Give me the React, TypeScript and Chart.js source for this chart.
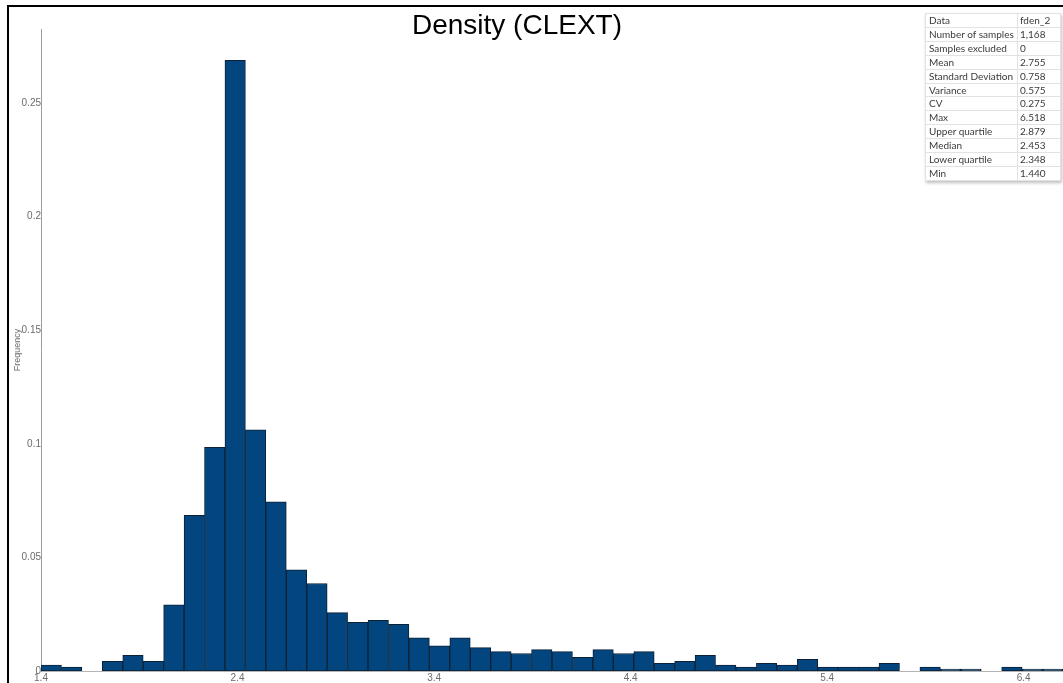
import { useEffect, useRef } from "react";
import { Chart, registerables } from "chart.js";

Chart.register(...registerables);

// Histogram bins: 50 equal-width bins starting at BIN_START
const BIN_START = 1.4;
const BIN_WIDTH = 0.104;
const FREQUENCY = [
  0.00257, 0.00171, 0, 0.00428, 0.00685, 0.00428, 0.02911, 0.06849, 0.09846, 0.26884,
  0.10616, 0.07449, 0.04452, 0.03853, 0.02568, 0.0214, 0.02226, 0.02055, 0.01455, 0.01113,
  0.01455, 0.01027, 0.00856, 0.00771, 0.00942, 0.00856, 0.00599, 0.00942, 0.00771, 0.00856,
  0.00342, 0.00428, 0.00685, 0.00257, 0.00171, 0.00342, 0.00257, 0.00514, 0.00171, 0.00171,
  0.00171, 0.00342, 0, 0.00171, 0.00086, 0.00086, 0, 0.00171, 0.00086, 0.00086,
];

const X_MIN = 1.4;
const X_MAX = 6.6;
const X_TICKS = [1.4, 2.4, 3.4, 4.4, 5.4, 6.4];
const Y_MAX = 0.2826;
const Y_TICKS = [0, 0.05, 0.1, 0.15, 0.2, 0.25];

const TITLE = "Density (CLEXT)";
const Y_TITLE = "Frequency";

const STAT_NAMES = [
  "Data",
  "Number of samples",
  "Samples excluded",
  "Mean",
  "Standard Deviation",
  "Variance",
  "CV",
  "Max",
  "Upper quartile",
  "Median",
  "Lower quartile",
  "Min",
];
const STAT_VALUES = [
  "fden_2",
  "1,168",
  "0",
  "2.755",
  "0.758",
  "0.575",
  "0.275",
  "6.518",
  "2.879",
  "2.453",
  "2.348",
  "1.440",
];

const AXIS_FONT = "'Liberation Sans', Arial, sans-serif";
const TABLE_FONT = "Lato, 'Noto Sans', sans-serif";

export default function App() {
  const canvasRef = useRef<HTMLCanvasElement>(null);

  useEffect(() => {
    const canvas = canvasRef.current;
    if (!canvas) return;

    const points = FREQUENCY.map((y, i) => ({ x: BIN_START + BIN_WIDTH * (i + 0.5), y }));

    const chart = new Chart(canvas, {
      type: "bar",
      data: {
        datasets: [
          {
            data: points,
            backgroundColor: "#03467f",
            borderColor: "#0c2135",
            borderWidth: 1,
            borderSkipped: false,
            barPercentage: 1,
            categoryPercentage: 1,
          },
        ],
      },
      options: {
        animation: false,
        responsive: false,
        devicePixelRatio: 1,
        layout: { padding: { top: 29, left: 0, right: 0, bottom: 0 } },
        plugins: {
          legend: { display: false },
          tooltip: { enabled: false },
          title: { display: false },
        },
        scales: {
          x: {
            type: "linear",
            min: X_MIN,
            max: X_MAX,
            offset: false,
            grid: { display: false, drawTicks: false },
            border: { color: "#b4b4b4", width: 1 },
            ticks: {
              padding: 1,
              color: "#6b6b6b",
              font: { family: AXIS_FONT, size: 10 },
              maxRotation: 0,
              autoSkip: false,
              callback: (v: any) => Number(v).toFixed(1),
            },
            afterBuildTicks: (s: any) => {
              s.ticks = X_TICKS.map((value) => ({ value }));
            },
            afterFit: (s: any) => {
              s.height = 12;
            },
          },
          y: {
            type: "linear",
            min: 0,
            max: Y_MAX,
            grid: { display: false, drawTicks: false },
            border: { color: "#9c9c9c", width: 1 },
            ticks: {
              padding: 0,
              color: "#6b6b6b",
              font: { family: AXIS_FONT, size: 10 },
              callback: (v: any) => String(v),
            },
            afterBuildTicks: (s: any) => {
              s.ticks = Y_TICKS.map((value) => ({ value }));
            },
            afterFit: (s: any) => {
              s.width = 41;
            },
            title: {
              display: true,
              text: Y_TITLE,
              color: "#6b6b6b",
              font: { family: AXIS_FONT, size: 9 },
              padding: { top: 12, bottom: 0 },
            },
          },
        },
      },
    } as any);

    return () => chart.destroy();
  }, []);

  return (
    <div
      style={{
        position: "fixed",
        left: 0,
        top: 0,
        width: 1063,
        height: 683,
        overflow: "hidden",
        background: "#ffffff",
      }}
    >
      <canvas
        ref={canvasRef}
        width={1063}
        height={683}
        style={{ position: "absolute", left: 0, top: 0, width: 1063, height: 683 }}
      />
      <div
        style={{
          position: "absolute",
          left: 7,
          top: 5,
          width: 1200,
          height: 800,
          border: "2px solid #000",
          pointerEvents: "none",
        }}
      />
      <div
        style={{
          position: "absolute",
          left: 317,
          top: 9,
          width: 400,
          textAlign: "center",
          fontFamily: AXIS_FONT,
          fontSize: 28,
          lineHeight: "32px",
          color: "#000",
        }}
      >
        {TITLE}
      </div>
      <table
        style={{
          position: "absolute",
          left: 925,
          top: 13,
          width: 136,
          borderCollapse: "collapse",
          border: "1px solid #b5b5b5",
          boxShadow: "1px 2px 3px rgba(0,0,0,0.25)",
          background: "#fff",
          fontFamily: TABLE_FONT,
          fontSize: 10,
          color: "#3a3a3a",
        }}
      >
        <tbody>
          {STAT_NAMES.map((name, i) => (
            <tr key={name}>
              <td
                style={{
                  width: 88,
                  padding: "0 0 0 3px",
                  height: 12.9,
                  lineHeight: "12.9px",
                  border: "1px solid #e2e2e2",
                  whiteSpace: "nowrap",
                }}
              >
                {name}
              </td>
              <td
                style={{
                  padding: "0 0 0 2px",
                  height: 12.9,
                  lineHeight: "12.9px",
                  border: "1px solid #e2e2e2",
                  whiteSpace: "nowrap",
                }}
              >
                {STAT_VALUES[i]}
              </td>
            </tr>
          ))}
        </tbody>
      </table>
    </div>
  );
}
